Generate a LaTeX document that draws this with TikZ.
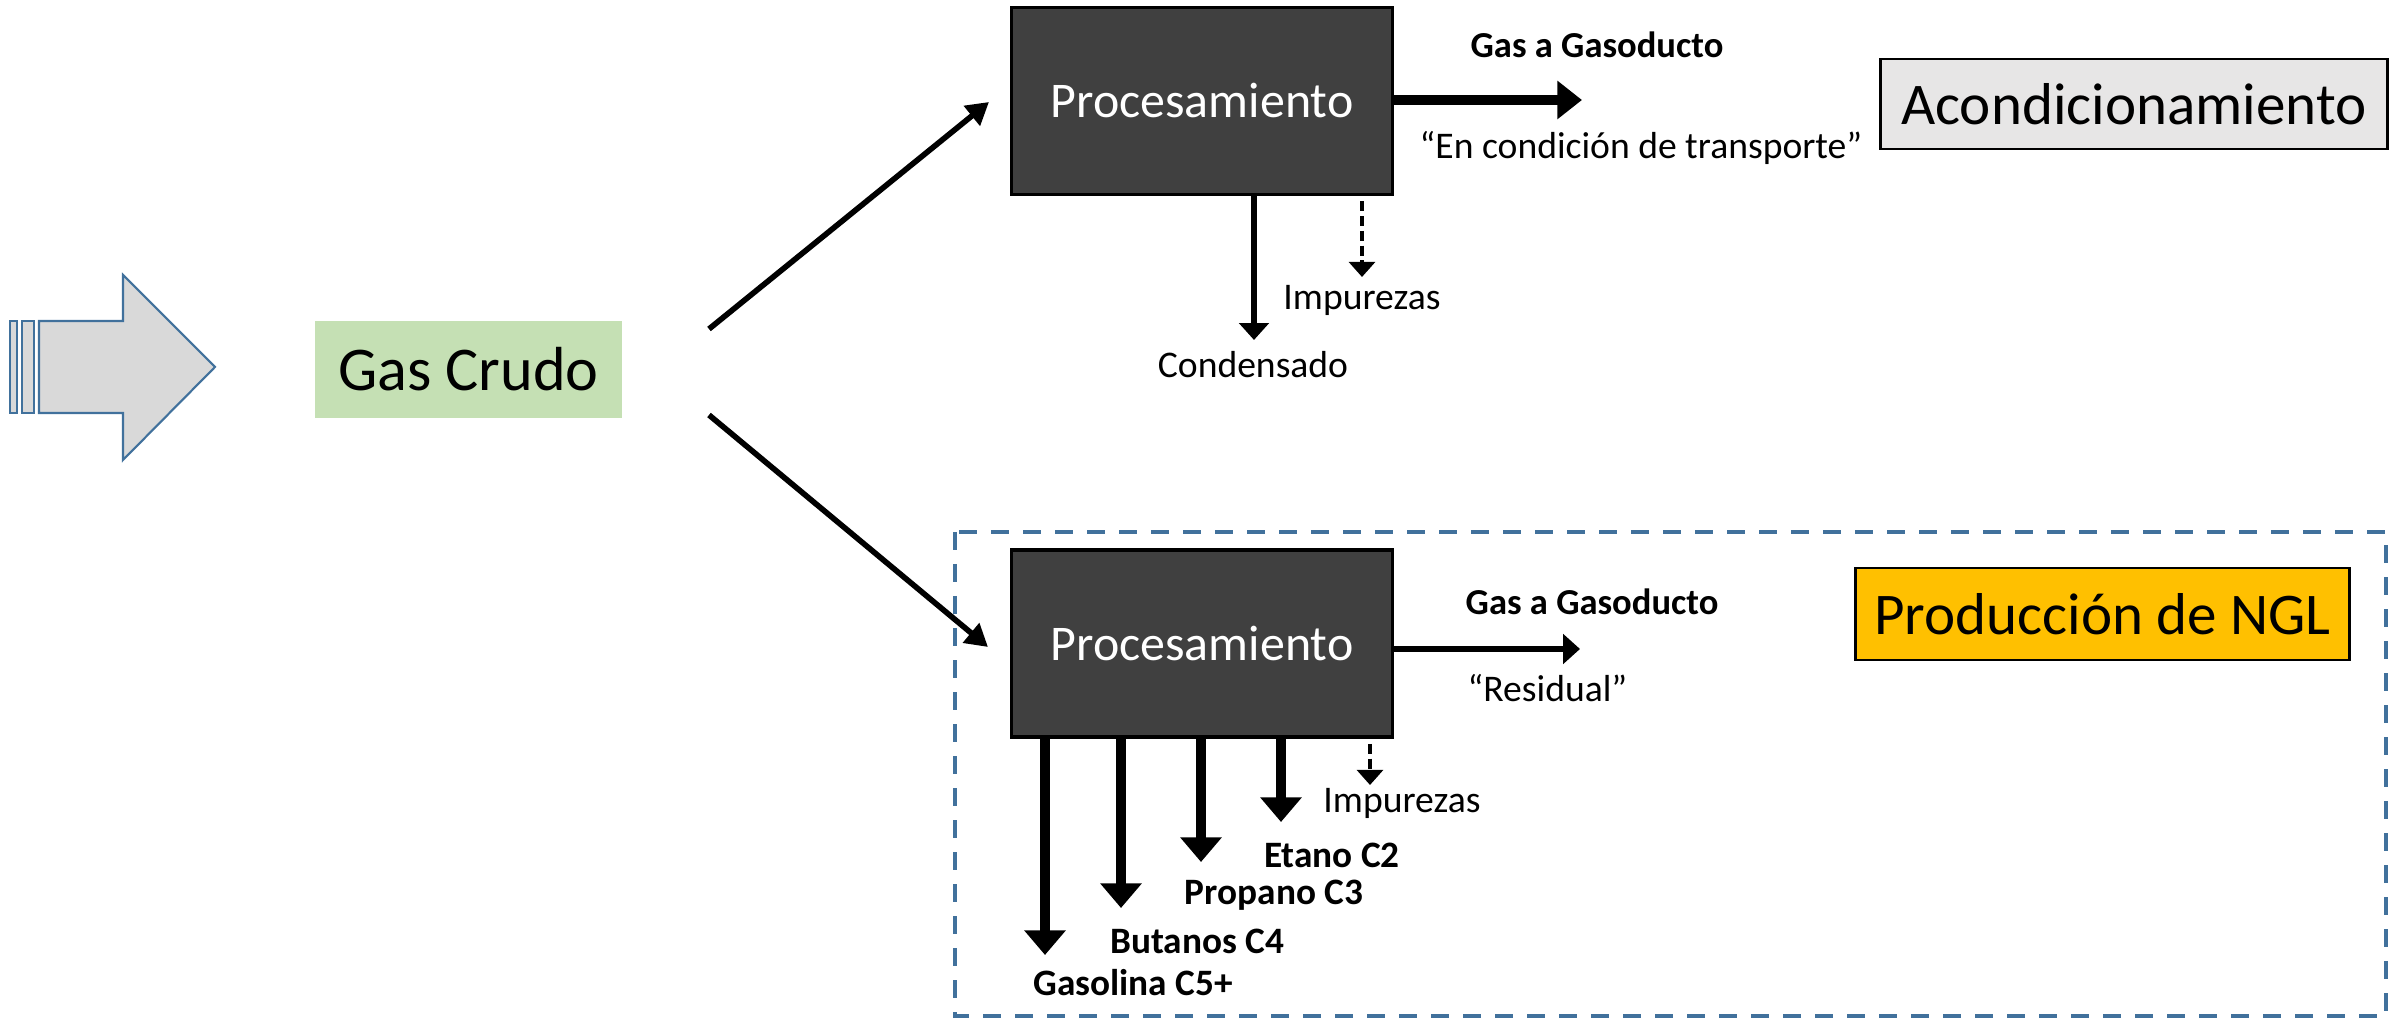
\documentclass[tikz,border=0pt]{standalone}
\usepackage{fontspec}
\setmainfont{Carlito}
\usetikzlibrary{arrows.meta}
\definecolor{procgray}{HTML}{404040}
\definecolor{crudogreen}{HTML}{C5E0B4}
\definecolor{acondgray}{HTML}{E7E6E6}
\definecolor{nglorange}{HTML}{FFC000}
\definecolor{steelblue}{HTML}{41719C}
\definecolor{arrowgray}{HTML}{D9D9D9}
\begin{document}
\begin{tikzpicture}[x=0.01cm,y=-0.01cm,
  procbox/.style={draw=black,line width=0.9pt,fill=procgray,text=white,inner sep=0pt,
    minimum width=3.80cm,minimum height=1.87cm,font=\fontsize{14.2}{16}\selectfont},
  bigtext/.style={font=\fontsize{16.8}{19}\selectfont,inner sep=0pt},
  smalltext/.style={font=\fontsize{10.7}{12}\selectfont,inner sep=0pt},
  boldtext/.style={font=\fontsize{10.4}{12}\selectfont\bfseries,inner sep=0pt},
  prodtext/.style={font=\fontsize{10.6}{12}\selectfont\bfseries,inner sep=0pt},
  topgasarrow/.style={line width=3pt,-{Triangle[length=7pt,width=10.5pt]}},
  botgasarrow/.style={line width=1.6pt,-{Triangle[length=4.8pt,width=8.3pt]}},
  downarrow/.style={line width=2.6pt,-{Triangle[length=7pt,width=11.4pt]}},
  condarrow/.style={line width=1.9pt,-{Triangle[length=4.8pt,width=8.3pt]}},
  diagarrow/.style={line width=1.6pt,-{Triangle[length=6.3pt,width=7pt]}},
  impuarrow/.style={line width=0.95pt,dash pattern=on 2.8pt off 1.4pt,-{Triangle[length=4.3pt,width=7.4pt]}}
]
\useasboundingbox (0,0) rectangle (2399,1019);

% big input arrow
\draw[steelblue,line width=0.6pt,fill=arrowgray] (10,321) rectangle (17,413);
\draw[steelblue,line width=0.6pt,fill=arrowgray] (22,321) rectangle (34,413);
\draw[steelblue,line width=0.6pt,fill=arrowgray]
  (39,321) -- (123,321) -- (123,275) -- (215,367) -- (123,460) -- (123,413) -- (39,413) -- cycle;

% nodes
\node[fill=crudogreen,inner sep=0pt,minimum width=3.07cm,minimum height=0.97cm,
  font=\fontsize{17.7}{20}\selectfont] (crudo) at (468.5,369.5) {Gas Crudo};
\node[procbox] (proc1) at (1202,101) {Procesamiento};
\node[procbox] (proc2) at (1202,643.5) {Procesamiento};
\node[bigtext,draw=black,line width=0.8pt,fill=acondgray,minimum width=5.06cm,minimum height=0.90cm]
  (acond) at (2134,104) {Acondicionamiento};
\node[bigtext,draw=black,line width=0.8pt,fill=nglorange,minimum width=4.93cm,minimum height=0.92cm]
  (ngl) at (2102.5,614) {Producción de NGL};

% dashed frame
\draw[steelblue,line width=1.1pt,dash pattern=on 5.1pt off 4pt] (955,532) rectangle (2386,1016);

% diagonal arrows
\coordinate (d1s) at (709,329);
\coordinate (d1e) at (989,102);
\coordinate (d2s) at (709,415);
\coordinate (d2e) at (988,647);
\draw[diagarrow] (d1s) -- (d1e);
\draw[diagarrow] (d2s) -- (d2e);

% top outputs
\coordinate (g1) at (1582,100);
\draw[topgasarrow] (proc1.east |- g1) -- (g1);
\node[boldtext] (g1lab) at (1597,45) {Gas a Gasoducto};
\node[smalltext] (g1sub) at (1641,148) {“En condición de transporte”};
\coordinate (cond) at (1254,340);
\draw[condarrow] (cond |- proc1.south) -- (cond);
\node[smalltext] (condlab) at (1253,365) {Condensado};
\coordinate (imp1) at (1362,277);
\draw[impuarrow] ([yshift=-1.5pt]imp1 |- proc1.south) -- (imp1);
\node[smalltext] (imp1lab) at (1362,300) {Impurezas};

% bottom outputs
\coordinate (g2) at (1580,649);
\draw[botgasarrow] (proc2.east |- g2) -- (g2);
\node[boldtext,anchor=west] (g2lab) at (1465,602) {Gas a Gasoducto};
\node[smalltext,anchor=west] (g2sub) at (1467,688) {“Residual”};
\coordinate (imp2) at (1370,785);
\draw[impuarrow] ([yshift=-1.5pt]imp2 |- proc2.south) -- (imp2);
\node[smalltext] (imp2lab) at (1402,803) {Impurezas};

\coordinate (c5) at (1045,955);
\coordinate (c4) at (1121,908);
\coordinate (c3) at (1201,862);
\coordinate (c2) at (1281,822);
\draw[downarrow] (c5 |- proc2.south) -- (c5);
\draw[downarrow] (c4 |- proc2.south) -- (c4);
\draw[downarrow] (c3 |- proc2.south) -- (c3);
\draw[downarrow] (c2 |- proc2.south) -- (c2);
\node[prodtext] (c2lab) at (1332,855) {Etano C2};
\node[prodtext] (c3lab) at (1274,895) {Propano C3};
\node[prodtext] (c4lab) at (1197,941) {Butanos C4};
\node[prodtext] (c5lab) at (1133,983) {Gasolina C5+};
\end{tikzpicture}
\end{document}
